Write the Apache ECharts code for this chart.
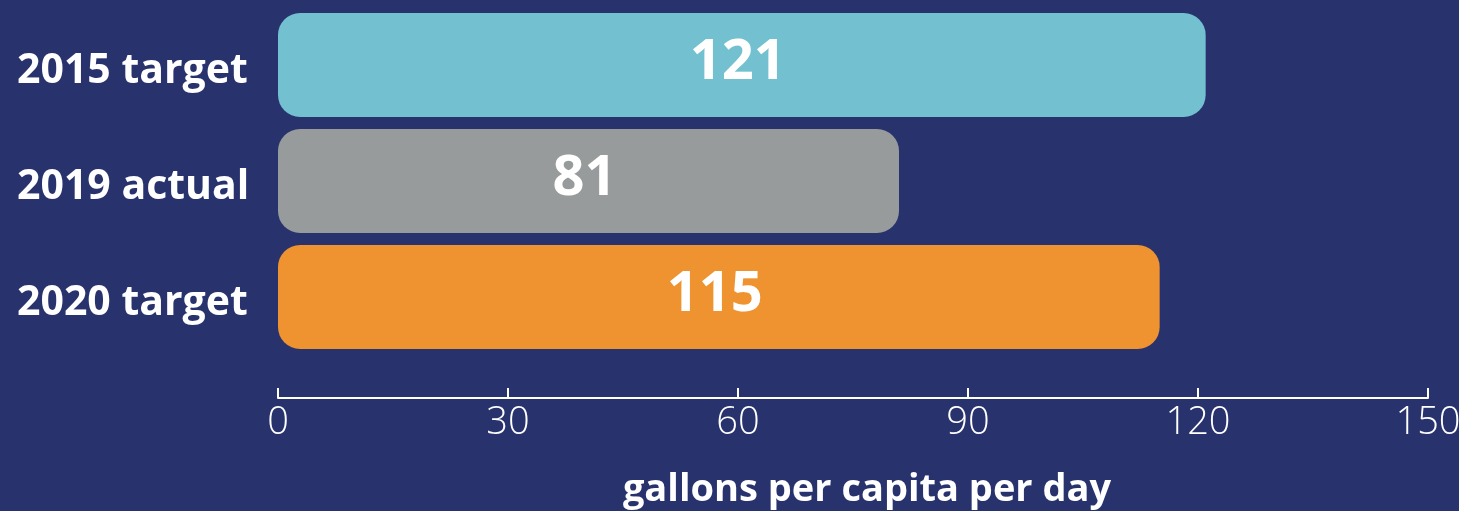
<!DOCTYPE html>
<html>
<head>
<meta charset="utf-8">
<script src="https://cdn.jsdelivr.net/npm/echarts@6/dist/echarts.min.js"></script>
<style>
  html, body {margin: 0; padding: 0; background: #28336e;}
  #chart {width: 1459px; height: 511px;}
</style>
</head>
<body>
<div id="chart"></div>
<script>
"use strict";
var categories = ['2015 target', '2019 actual', '2020 target'];
var values = [121, 81, 115];
var barColors = ['#73c0d1', '#979b9c', '#ef9230'];
var axisTicks = [0, 30, 60, 90, 120, 150];
var axisTitle = 'gallons per capita per day';

var chart = echarts.init(document.getElementById('chart'));
var font = '"Open Sans", Lato, sans-serif';

var option = {
    backgroundColor: '#28336e',
    animation: false,
    grid: {left: 278, right: 31, top: 7, height: 348, containLabel: false, outerBoundsMode: 'none'},
    title: {
        text: axisTitle, left: 862, top: 466, textAlign: 'center',
        textStyle: {color: '#fff', fontFamily: font, fontWeight: 'bold', fontSize: 38}
    },
    xAxis: {
        type: 'value', min: axisTicks[0], max: axisTicks[axisTicks.length - 1], interval: 30,
        offset: 43,
        splitLine: {show: false},
        axisLine: {show: true, lineStyle: {color: '#fff', width: 2}},
        axisTick: {show: true, inside: true, length: 10, lineStyle: {color: '#fff', width: 2}},
        axisLabel: {color: '#fff', fontFamily: font, fontWeight: 300, fontSize: 38, margin: 6}
    },
    yAxis: {
        type: 'category', data: categories, inverse: true,
        axisLine: {show: false}, axisTick: {show: false},
        axisLabel: {
            margin: 261, align: 'left',
            formatter: '{c|{value}}',
            rich: {
                c: {
                    color: '#fff', fontFamily: font, fontWeight: 'bold', fontSize: 41,
                    padding: [12, 0, 0, 0]
                }
            }
        }
    },
    series: [{
        type: 'bar', barWidth: 104,
        data: values.map(function (v, i) {
            return {value: v, itemStyle: {color: barColors[i], borderRadius: 22}};
        }),
        label: {
            show: true, position: 'inside', color: '#fff', offset: [-4, -2],
            fontFamily: font, fontWeight: 'bold', fontSize: 56
        }
    }]
};
chart.setOption(option);
</script>
</body>
</html>
